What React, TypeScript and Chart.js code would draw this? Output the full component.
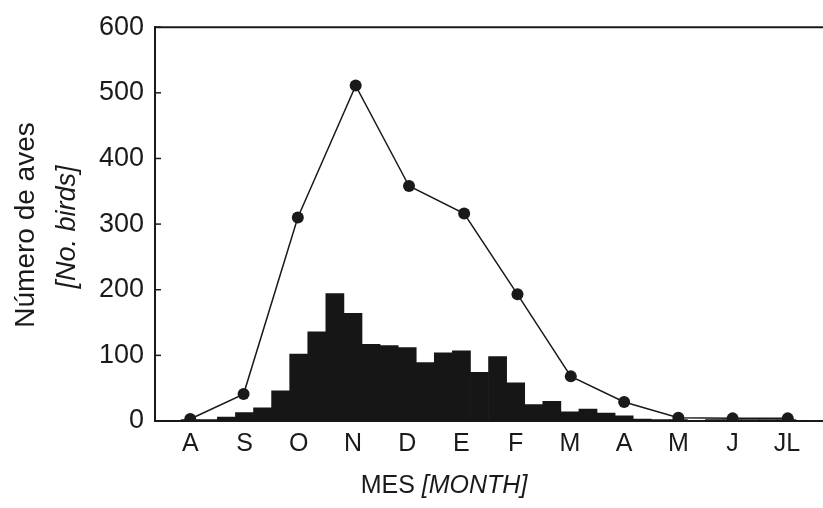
import React, { useEffect, useRef } from "react";
import { Chart, registerables } from "chart.js";

Chart.register(...registerables);

// Month tick labels and their positions (in 10-day periods)
const monthLabels = ["A", "S", "O", "N", "D", "E", "F", "M", "A", "M", "J", "JL"];
const monthPos = [2, 5, 8, 11, 14, 17, 20, 23, 26, 29, 32, 35];

// Monthly totals (line) at month positions
const monthlyX = [2, 4.95, 7.95, 11.15, 14.1, 17.15, 20.1, 23.05, 26, 29, 32, 35.05];
const monthlyBirds = [3, 41, 310, 511, 358, 316, 193, 68, 29, 5, 4, 4];

// 10-day period counts (bars)
const periodX = [
  0, 1, 2, 3, 4, 5, 6, 7, 8, 9, 10, 11, 12, 13, 14, 15, 16, 17, 18,
  19, 20, 21, 22, 23, 24, 25, 26, 27, 28, 29, 30, 31, 32, 33, 34, 35, 36,
];
const periodBirds = [
  1, 1, 2, 2, 6, 13, 20, 46, 102, 136, 194, 164, 117, 115, 112, 89, 104, 107, 74,
  98, 58, 25, 30, 14, 18, 12, 8, 3, 2, 2, 1, 2, 2, 2, 2, 2, 1,
];

const yTicks = [0, 100, 200, 300, 400, 500, 600];

const FONT = "'Liberation Sans', Arial, sans-serif";

const decorPlugin = {
  id: "decor",
  afterDraw(chart: any) {
    const ctx = chart.ctx;
    const a = chart.chartArea;
    const ys = chart.scales.y;
    ctx.save();
    ctx.strokeStyle = "#1a1a1a";
    ctx.lineWidth = 2;
    ctx.beginPath();
    ctx.moveTo(a.left - 1, a.top);
    ctx.lineTo(a.right, a.top);
    ctx.stroke();
    ctx.lineWidth = 1.5;
    for (const v of yTicks) {
      const y = ys.getPixelForValue(v);
      ctx.beginPath();
      ctx.moveTo(a.left, y);
      ctx.lineTo(a.left + 6, y);
      ctx.stroke();
    }
    ctx.fillStyle = "#1a1a1a";
    // Y title
    ctx.textAlign = "center";
    ctx.textBaseline = "alphabetic";
    ctx.save();
    ctx.translate(34, 225);
    ctx.rotate(-Math.PI / 2);
    ctx.font = `28px ${FONT}`;
    ctx.fillText("Número de aves", 0, 0);
    ctx.restore();
    ctx.save();
    ctx.translate(75, 227);
    ctx.rotate(-Math.PI / 2);
    ctx.font = `italic 27px ${FONT}`;
    ctx.fillText("[No. birds]", 0, 0);
    ctx.restore();
    // X title
    const t1 = "MES ";
    const t2 = "[MONTH]";
    ctx.font = `25px ${FONT}`;
    const w1 = ctx.measureText(t1).width;
    ctx.font = `italic 25px ${FONT}`;
    const w2 = ctx.measureText(t2).width;
    const x0 = 444 - (w1 + w2) / 2;
    ctx.textAlign = "left";
    ctx.font = `25px ${FONT}`;
    ctx.fillText(t1, x0, 493);
    ctx.font = `italic 25px ${FONT}`;
    ctx.fillText(t2, x0 + w1, 493);
    ctx.restore();
  },
};

export default function App() {
  const ref = useRef<HTMLCanvasElement>(null);
  useEffect(() => {
    if (!ref.current) return;
    const chart = new Chart(ref.current, {
      type: "bar",
      data: {
        datasets: [
          {
            type: "line",
            data: monthlyX.map((x, i) => ({ x, y: monthlyBirds[i] })),
            borderColor: "#1a1a1a",
            borderWidth: 1.5,
            pointRadius: 6,
            pointBackgroundColor: "#1a1a1a",
            pointBorderColor: "#1a1a1a",
            pointBorderWidth: 0,
            tension: 0,
            order: 0,
          } as any,
          {
            type: "bar",
            data: periodX.map((x, i) => ({ x, y: periodBirds[i] })),
            backgroundColor: "#161616",
            borderWidth: 0,
            barPercentage: 1,
            categoryPercentage: 1,
            order: 1,
          } as any,
        ],
      },
      options: {
        responsive: false,
        animation: false,
        layout: { autoPadding: false, padding: { top: 24, left: 0, right: 0, bottom: 0 } },
        plugins: { legend: { display: false }, tooltip: { enabled: false } },
        scales: {
          x: {
            type: "linear",
            offset: false,
            min: 0.05,
            max: 37,
            grid: { display: false, drawTicks: false, offset: false },
            border: { display: true, color: "#1a1a1a", width: 2 },
            afterBuildTicks: (s: any) => {
              s.ticks = monthPos.map((v) => ({ value: v }));
            },
            afterFit: (s: any) => {
              s.height = 87;
              s.paddingLeft = 0;
              s.paddingRight = 0;
            },
            ticks: {
              autoSkip: false,
              maxRotation: 0,
              padding: 8,
              color: "#1a1a1a",
              font: { family: FONT, size: 25 },
              callback: (_v: any, i: number) => monthLabels[i],
            },
          },
          y: {
            min: 0,
            max: 600,
            grid: { display: false, drawTicks: false },
            border: { display: true, color: "#1a1a1a", width: 2 },
            afterBuildTicks: (s: any) => {
              s.ticks = yTicks.map((v) => ({ value: v }));
            },
            afterFit: (s: any) => {
              s.width = 155;
            },
            ticks: {
              padding: 11,
              color: "#1a1a1a",
              font: { family: FONT, size: 27 },
            },
          },
        },
      },
      plugins: [decorPlugin],
    });
    return () => chart.destroy();
  }, []);
  return (
    <div style={{ position: "absolute", left: 0, top: 0, width: 823, height: 508, background: "#fff" }}>
      <canvas ref={ref} width={823} height={508} />
    </div>
  );
}
